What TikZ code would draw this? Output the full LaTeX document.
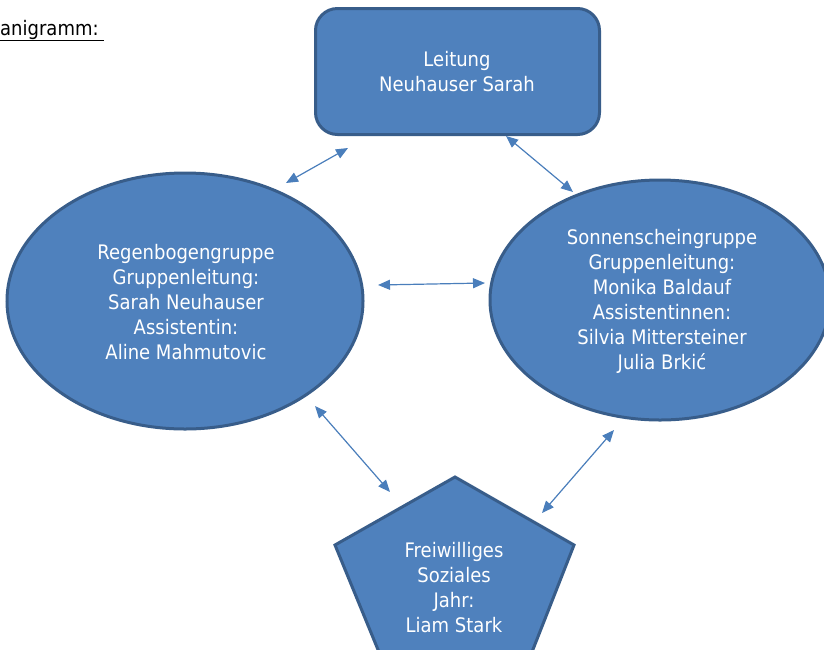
\documentclass[tikz,border=0pt]{standalone}
\usepackage{fontspec}
\setmainfont{DejaVu Sans}[FakeStretch=0.9]
\usetikzlibrary{arrows.meta}
\definecolor{boxfill}{HTML}{4F81BD}
\definecolor{boxline}{HTML}{385D8A}
\definecolor{arrowc}{HTML}{4A7EBB}
\tikzset{
  shapebox/.style={fill=boxfill, draw=boxline, line width=3pt},
  lbl/.style={text=white, align=center, font=\fontsize{20}{25}\selectfont},
  link/.style={draw=arrowc, line width=1.2pt, {Triangle[length=12pt,width=10pt]}-{Triangle[length=12pt,width=10pt]}}
}
\begin{document}
\begin{tikzpicture}[x=1pt,y=-1pt]
\useasboundingbox (0,0) rectangle (824,649);
\clip (0,0) rectangle (824,649);
% title
\node[anchor=base west, inner sep=0pt, font=\fontsize{20}{24}\selectfont] (title) at (0,35) {\underline{anigramm:\ }};
% Leitung
\node[shapebox, rounded corners=22pt, minimum width=284pt, minimum height=126pt] (lead) at (457.5,71.5) {};
\node[lbl] (leadtxt) at (457,72) {Leitung\\Neuhauser Sarah};
% left ellipse
\draw[shapebox] (185,301) ellipse [x radius=178, y radius=128];
\node[lbl] (regen) at (186,302) {Regenbogengruppe\\Gruppenleitung:\\Sarah Neuhauser\\Assistentin:\\Aline Mahmutovic};
% right ellipse
\draw[shapebox] (660,300) ellipse [x radius=170, y radius=120];
\node[lbl] (sonne) at (662,301) {Sonnenscheingruppe\\Gruppenleitung:\\Monika Baldauf\\Assistentinnen:\\Silvia Mittersteiner\\Julia Brkić};
% pentagon
\draw[shapebox] (455,477) -- (574,545) -- (530,657) -- (381,657) -- (335,545) -- cycle;
\node[lbl] (fsj) at (454,588) {Freiwilliges\\Soziales\\Jahr:\\Liam Stark};
% arrow endpoints
\coordinate (a1) at (286,183); \coordinate (a2) at (348,148);
\coordinate (b1) at (506,136); \coordinate (b2) at (573,192);
\coordinate (c1) at (378,285); \coordinate (c2) at (485,283);
\coordinate (d1) at (315,406); \coordinate (d2) at (390,492);
\coordinate (e1) at (542,513); \coordinate (e2) at (614,430);
\draw[link] (a1) -- (a2);
\draw[link] (b1) -- (b2);
\draw[link] (c1) -- (c2);
\draw[link] (d1) -- (d2);
\draw[link] (e1) -- (e2);
\end{tikzpicture}
\end{document}
